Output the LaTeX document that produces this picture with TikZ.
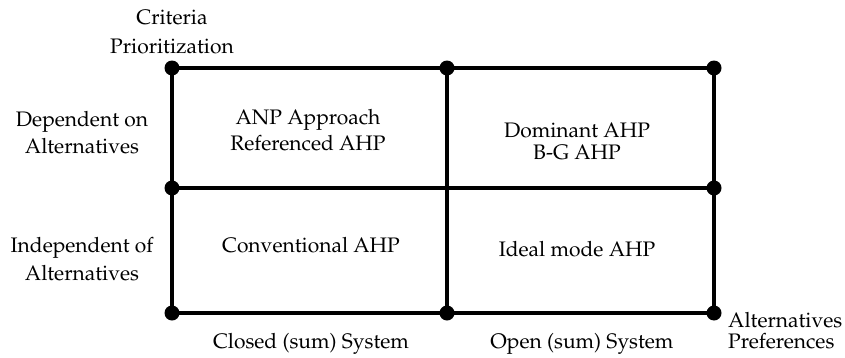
\documentclass[tikz,border=0pt]{standalone}
\usepackage[T1]{fontenc}
\usepackage{mathpazo}
\newcommand{\twoc}[2]{\begin{tabular}[t]{@{}c@{}}#1\\#2\end{tabular}}
\newcommand{\twol}[2]{\begin{tabular}[t]{@{}l@{}}#1\\#2\end{tabular}}
\begin{document}
\begin{tikzpicture}[x=1pt,y=1pt,
  dot/.style={circle,fill=black,inner sep=0pt,minimum size=15pt},
  gridline/.style={line width=4pt},
  lbl/.style={inner sep=0pt,anchor=base,font=\fontsize{21}{#1}\selectfont},
  lbl/.default=24]
\useasboundingbox (0,0) rectangle (845,357);
% grid corners
\coordinate (p11) at (172,289);
\coordinate (p12) at (447,289);
\coordinate (p13) at (714,289);
\coordinate (p21) at (172,169);
\coordinate (p22) at (447,169);
\coordinate (p23) at (714,169);
\coordinate (p31) at (172,44);
\coordinate (p32) at (447,44);
\coordinate (p33) at (714,44);
\draw[gridline] (p11) -- (p13) (p21) -- (p23) (p31) -- (p33)
  (p11) -- (p31) (p12) -- (p32) (p13) -- (p33);
\foreach \p in {p11,p12,p13,p21,p23,p31,p32,p33}
  \node[dot] (d\p) at (\p) {};
% labels
\node[lbl=29] (crit) at (172,332) {\twoc{Criteria}{Prioritization}};
\node[lbl=27] (dep) at (82,231) {\twoc{Dependent on}{Alternatives}};
\node[lbl=28] (indep) at (82,105) {\twoc{Independent of}{Alternatives}};
\node[lbl=26] (anp) at (308,233) {\twoc{ANP Approach}{Referenced AHP}};
\node[lbl=22] (dom) at (577,220) {\twoc{Dominant AHP}{B-G AHP}};
\node[lbl] (conv) at (311,105) {Conventional AHP};
\node[lbl] (ideal) at (577,101) {Ideal mode AHP};
\node[lbl] (closed) at (311,9) {Closed (sum) System};
\node[lbl] (open) at (582,9) {Open (sum) System};
\node[lbl=20, anchor=base west] (altpref) at (728,30) {\twol{Alternatives}{Preferences}};
\end{tikzpicture}
\end{document}
